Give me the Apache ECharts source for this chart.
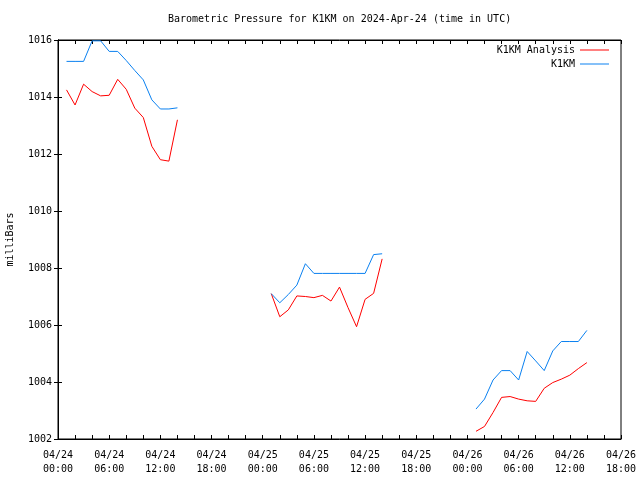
<!DOCTYPE html>
<html>
<head>
<meta charset="utf-8">
<script src="https://cdn.jsdelivr.net/npm/echarts@6/dist/echarts.min.js"></script>
<style>html,body{margin:0;padding:0;background:#fff;}#c{width:640px;height:480px;}</style>
</head>
<body>
<div id="c"></div>
<script>
// Hours since 2024-04-24 00:00 UTC for each segment
var hoursSeg1 = [1,2,3,4,5,6,7,8,9,10,11,12,13,14];
var hoursSeg2 = [25,26,27,28,29,30,31,32,33,34,35,36,37,38];
var hoursSeg3 = [49,50,51,52,53,54,55,56,57,58,59,60,61,62];

// K1KM Analysis (red)
var analysisSeg1 = [1014.25,1013.72,1014.45,1014.19,1014.04,1014.06,1014.62,1014.27,1013.61,1013.28,1012.27,1011.80,1011.75,1013.20];
var analysisSeg2 = [1007.10,1006.29,1006.53,1007.02,1007.00,1006.96,1007.04,1006.84,1007.33,1006.61,1005.94,1006.90,1007.11,1008.32];
var analysisSeg3 = [1002.27,1002.44,1002.93,1003.46,1003.49,1003.40,1003.34,1003.32,1003.78,1003.98,1004.10,1004.24,1004.47,1004.68];

// K1KM (blue)
var stationSeg1 = [1015.25,1015.25,1015.25,1015.97,1015.97,1015.60,1015.60,1015.28,1014.93,1014.60,1013.90,1013.58,1013.58,1013.62];
var stationSeg2 = [1007.10,1006.78,1007.07,1007.40,1008.15,1007.81,1007.81,1007.81,1007.81,1007.81,1007.81,1007.81,1008.47,1008.50];
var stationSeg3 = [1003.05,1003.40,1004.07,1004.40,1004.40,1004.07,1005.07,1004.74,1004.40,1005.09,1005.42,1005.42,1005.42,1005.81];

var xTickLabels = ['04/24\n00:00','04/24\n06:00','04/24\n12:00','04/24\n18:00',
                   '04/25\n00:00','04/25\n06:00','04/25\n12:00','04/25\n18:00',
                   '04/26\n00:00','04/26\n06:00','04/26\n12:00','04/26\n18:00'];
var yTickLabels = ['1002','1004','1006','1008','1010','1012','1014','1016'];

function build(hs, vs) {
  var out = [];
  for (var s = 0; s < hs.length; s++) {
    if (s > 0) out.push([hs[s][0] - 0.5, '-']);
    for (var i = 0; i < hs[s].length; i++) out.push([hs[s][i], vs[s][i]]);
  }
  return out;
}
var hoursAll = [hoursSeg1, hoursSeg2, hoursSeg3];
var analysisData = build(hoursAll, [analysisSeg1, analysisSeg2, analysisSeg3]);
var stationData = build(hoursAll, [stationSeg1, stationSeg2, stationSeg3]);

var FONT = 'DejaVu Sans Mono';
var chart = echarts.init(document.getElementById('c'), null, {renderer: 'canvas'});
var axisCommon = {
  axisLine: {show: true, lineStyle: {color: '#000', width: 1}},
  axisTick: {show: true, inside: true, length: 4, lineStyle: {color: '#000'}},
  splitLine: {show: false}
};
var legendText = {fontFamily: FONT, fontSize: 10, color: '#000'};
chart.setOption({
  animation: false,
  backgroundColor: '#fff',
  textStyle: {fontFamily: FONT},
  title: {
    text: 'Barometric Pressure for K1KM on 2024-Apr-24 (time in UTC)',
    left: 168, top: 14, padding: 0,
    textStyle: {fontFamily: FONT, fontSize: 10, fontWeight: 'normal', color: '#000'}
  },
  legend: [
    {data: ['K1KM Analysis'], right: 31, top: 45, orient: 'vertical', align: 'right', padding: 0,
     icon: 'rect', itemWidth: 29, itemHeight: 1, textStyle: legendText},
    {data: ['K1KM'], right: 31, top: 59, orient: 'vertical', align: 'right', padding: 0,
     icon: 'rect', itemWidth: 29, itemHeight: 1, textStyle: legendText}
  ],
  grid: {left: 58, right: 19, top: 40, bottom: 41, containLabel: false, outerBoundsMode: 'none',
         show: true, borderColor: '#000', borderWidth: 1},
  xAxis: [
    Object.assign({}, axisCommon, {
      type: 'value', min: 0, max: 66, interval: 6, position: 'bottom',
      minorTick: {show: true, splitNumber: 3, length: 4, lineStyle: {color: '#000'}},
      axisLabel: {margin: 9, fontFamily: FONT, fontSize: 10, color: '#000', lineHeight: 14,
        formatter: function (v) { return xTickLabels[Math.round(v / 6)]; }}
    }),
    Object.assign({}, axisCommon, {
      type: 'value', min: 0, max: 66, interval: 6, position: 'top',
      minorTick: {show: true, splitNumber: 3, length: 4, lineStyle: {color: '#000'}},
      axisLabel: {show: false}
    })
  ],
  yAxis: [
    Object.assign({}, axisCommon, {
      type: 'value', min: 1002, max: 1016, interval: 2, position: 'left',
      name: 'milliBars', nameLocation: 'middle', nameGap: 43, nameRotate: 90,
      nameTextStyle: {fontFamily: FONT, fontSize: 10, color: '#000'},
      axisLabel: {margin: 6, fontFamily: FONT, fontSize: 10, color: '#000',
        formatter: function (v) { return yTickLabels[Math.round((v - 1002) / 2)]; }}
    }),
    Object.assign({}, axisCommon, {
      type: 'value', min: 1002, max: 1016, interval: 2, position: 'right',
      axisLabel: {show: false}
    })
  ],
  series: [
    {name: 'K1KM Analysis', type: 'line', data: analysisData, symbol: 'none', connectNulls: false,
     lineStyle: {color: '#ff0000', width: 1}, itemStyle: {color: '#ff0000'}},
    {name: 'K1KM', type: 'line', data: stationData, symbol: 'none', connectNulls: false,
     lineStyle: {color: '#0a80f0', width: 1}, itemStyle: {color: '#0a80f0'}}
  ]
});
</script>
</body>
</html>
